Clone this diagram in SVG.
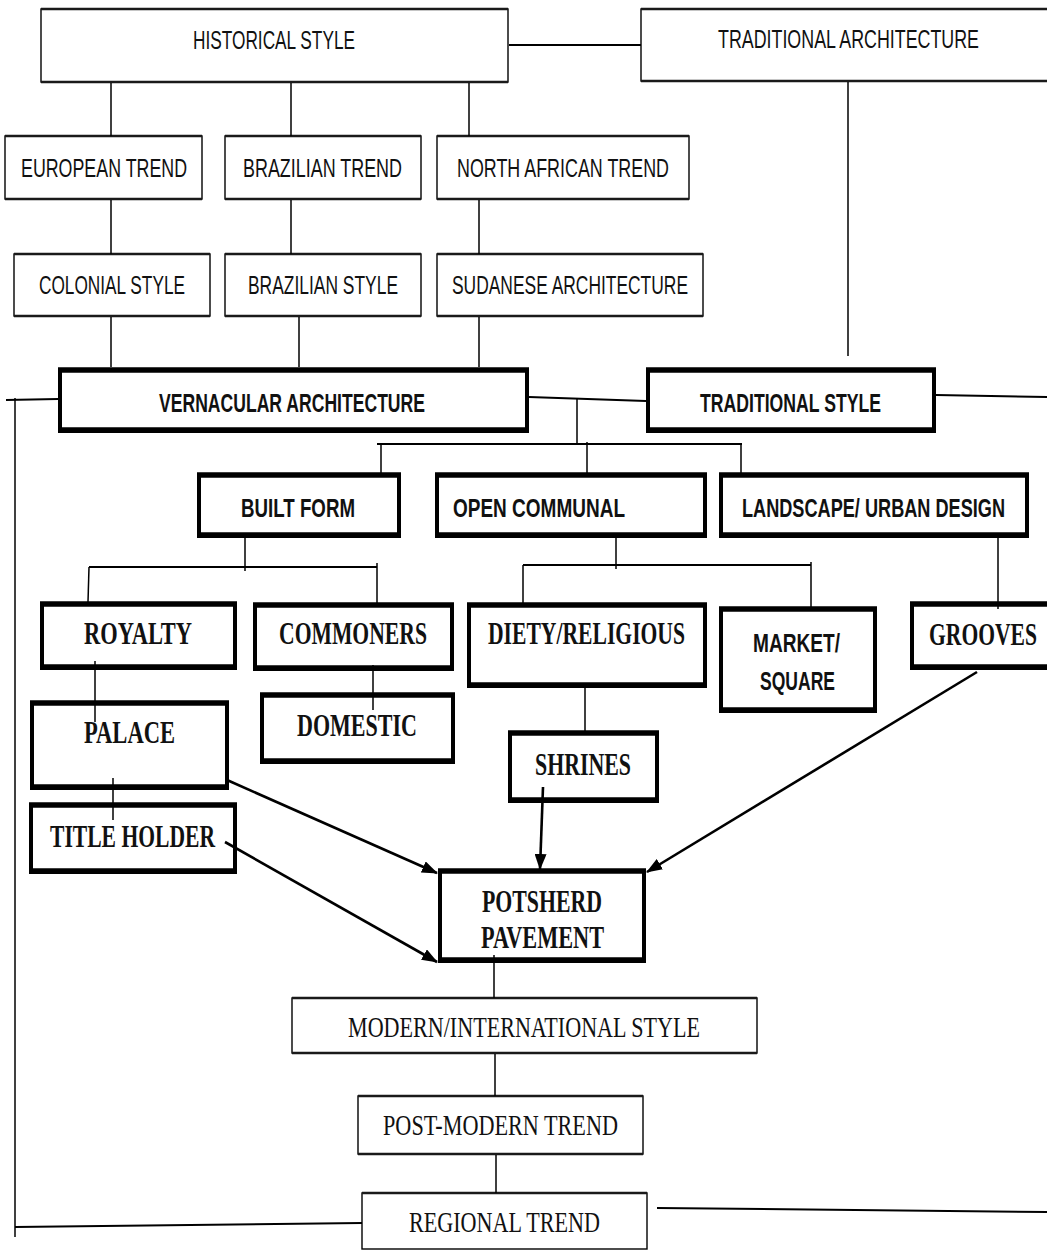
<svg xmlns="http://www.w3.org/2000/svg" width="1047" height="1250" viewBox="0 0 1047 1250">
<style>
.bg{fill:#fff}
.n rect.b{fill:#fff;stroke:#000}
.thin rect.b{stroke-width:1.4}
.thin line.h{stroke:#1a1a1a;stroke-width:2.4}
.thick rect.b{stroke-width:4}
.thick line.h{stroke:#000;stroke-width:5.5}
text{fill:#111;lengthAdjust:spacingAndGlyphs}
.s{font-family:"Liberation Sans",Arial,sans-serif;font-size:26px}
.sb{font-family:"Liberation Sans",Arial,sans-serif;font-size:26px;font-weight:bold}
.r{font-family:"Liberation Serif","Times New Roman",serif;font-size:29px}
.rb{font-family:"Liberation Serif","Times New Roman",serif;font-size:31px;font-weight:bold}
#connectors line,#connectors polyline{stroke:#000;stroke-width:1.5;fill:none}
#connectors .w{stroke-width:2}
#connectors .a{stroke-width:2.6}
</style>
<defs>
<marker id="ah" markerUnits="userSpaceOnUse" markerWidth="16" markerHeight="12" refX="15" refY="6" orient="auto">
<path d="M0,0 L16,6 L0,12 Z" fill="#000"/>
</marker>
</defs>
<rect class="bg" x="0" y="0" width="1047" height="1250"/>

<g id="nodes">
<g id="historical-style" class="n thin">
<rect class="b" x="41" y="9" width="467" height="73"/>
<line class="h" x1="41" y1="9" x2="508" y2="9"/><line class="h" x1="41" y1="82" x2="508" y2="82"/>
<text class="s" x="193" y="49" textLength="162" lengthAdjust="spacingAndGlyphs">HISTORICAL STYLE</text>
</g>
<g id="traditional-architecture" class="n thin">
<rect class="b" x="641" y="9" width="420" height="72"/>
<line class="h" x1="641" y1="9" x2="1061" y2="9"/><line class="h" x1="641" y1="81" x2="1061" y2="81"/>
<text class="s" x="718" y="48" textLength="261" lengthAdjust="spacingAndGlyphs">TRADITIONAL ARCHITECTURE</text>
</g>
<g id="european-trend" class="n thin">
<rect class="b" x="5" y="136" width="197" height="63"/>
<line class="h" x1="5" y1="136" x2="202" y2="136"/><line class="h" x1="5" y1="199" x2="202" y2="199"/>
<text class="s" x="21" y="177" textLength="166" lengthAdjust="spacingAndGlyphs">EUROPEAN TREND</text>
</g>
<g id="brazilian-trend" class="n thin">
<rect class="b" x="225" y="136" width="196" height="63"/>
<line class="h" x1="225" y1="136" x2="421" y2="136"/><line class="h" x1="225" y1="199" x2="421" y2="199"/>
<text class="s" x="243" y="177" textLength="159" lengthAdjust="spacingAndGlyphs">BRAZILIAN TREND</text>
</g>
<g id="north-african-trend" class="n thin">
<rect class="b" x="437" y="136" width="252" height="63"/>
<line class="h" x1="437" y1="136" x2="689" y2="136"/><line class="h" x1="437" y1="199" x2="689" y2="199"/>
<text class="s" x="457" y="177" textLength="212" lengthAdjust="spacingAndGlyphs">NORTH AFRICAN TREND</text>
</g>
<g id="colonial-style" class="n thin">
<rect class="b" x="14" y="254" width="196" height="62"/>
<line class="h" x1="14" y1="254" x2="210" y2="254"/><line class="h" x1="14" y1="316" x2="210" y2="316"/>
<text class="s" x="39" y="294" textLength="146" lengthAdjust="spacingAndGlyphs">COLONIAL STYLE</text>
</g>
<g id="brazilian-style" class="n thin">
<rect class="b" x="225" y="254" width="196" height="62"/>
<line class="h" x1="225" y1="254" x2="421" y2="254"/><line class="h" x1="225" y1="316" x2="421" y2="316"/>
<text class="s" x="248" y="294" textLength="150" lengthAdjust="spacingAndGlyphs">BRAZILIAN STYLE</text>
</g>
<g id="sudanese-architecture" class="n thin">
<rect class="b" x="437" y="254" width="266" height="62"/>
<line class="h" x1="437" y1="254" x2="703" y2="254"/><line class="h" x1="437" y1="316" x2="703" y2="316"/>
<text class="s" x="452" y="294" textLength="236" lengthAdjust="spacingAndGlyphs">SUDANESE ARCHITECTURE</text>
</g>

<g id="vernacular-architecture" class="n thick">
<rect class="b" x="60" y="370" width="467" height="61"/>
<line class="h" x1="58" y1="370" x2="529" y2="370"/><line class="h" x1="58" y1="430" x2="529" y2="430"/>
<text class="sb" x="159" y="412" textLength="266" lengthAdjust="spacingAndGlyphs">VERNACULAR ARCHITECTURE</text>
</g>
<g id="traditional-style" class="n thick">
<rect class="b" x="648" y="370" width="286" height="61"/>
<line class="h" x1="646" y1="370" x2="936" y2="370"/><line class="h" x1="646" y1="430" x2="936" y2="430"/>
<text class="sb" x="700" y="412" textLength="181" lengthAdjust="spacingAndGlyphs">TRADITIONAL STYLE</text>
</g>
<g id="built-form" class="n thick">
<rect class="b" x="199" y="475" width="200" height="61"/>
<line class="h" x1="197" y1="475" x2="401" y2="475"/><line class="h" x1="197" y1="535" x2="401" y2="535"/>
<text class="sb" x="241" y="517" textLength="114" lengthAdjust="spacingAndGlyphs">BUILT FORM</text>
</g>
<g id="open-communal" class="n thick">
<rect class="b" x="437" y="475" width="268" height="61"/>
<line class="h" x1="435" y1="475" x2="707" y2="475"/><line class="h" x1="435" y1="535" x2="707" y2="535"/>
<text class="sb" x="453" y="517" textLength="172" lengthAdjust="spacingAndGlyphs">OPEN COMMUNAL</text>
</g>
<g id="landscape-urban-design" class="n thick">
<rect class="b" x="721" y="475" width="306" height="61"/>
<line class="h" x1="719" y1="475" x2="1029" y2="475"/><line class="h" x1="719" y1="535" x2="1029" y2="535"/>
<text class="sb" x="742" y="517" textLength="263" lengthAdjust="spacingAndGlyphs">LANDSCAPE/ URBAN DESIGN</text>
</g>

<g id="royalty" class="n thick">
<rect class="b" x="42" y="604" width="193" height="64"/>
<line class="h" x1="40" y1="604" x2="237" y2="604"/><line class="h" x1="40" y1="667" x2="237" y2="667"/>
<text class="rb" x="84" y="644" textLength="108" lengthAdjust="spacingAndGlyphs">ROYALTY</text>
</g>
<g id="commoners" class="n thick">
<rect class="b" x="255" y="605" width="197" height="64"/>
<line class="h" x1="253" y1="605" x2="454" y2="605"/><line class="h" x1="253" y1="668" x2="454" y2="668"/>
<text class="rb" x="279" y="644" textLength="148" lengthAdjust="spacingAndGlyphs">COMMONERS</text>
</g>
<g id="diety-religious" class="n thick">
<rect class="b" x="469" y="605" width="236" height="81"/>
<line class="h" x1="467" y1="605" x2="707" y2="605"/><line class="h" x1="467" y1="685" x2="707" y2="685"/>
<text class="rb" x="488" y="644" textLength="197" lengthAdjust="spacingAndGlyphs">DIETY/RELIGIOUS</text>
</g>
<g id="market-square" class="n thick">
<rect class="b" x="721" y="609" width="154" height="102"/>
<line class="h" x1="719" y1="609" x2="877" y2="609"/><line class="h" x1="719" y1="710" x2="877" y2="710"/>
<text class="sb" x="753" y="652" textLength="87" lengthAdjust="spacingAndGlyphs">MARKET/</text>
<text class="sb" x="760" y="690" textLength="75" lengthAdjust="spacingAndGlyphs">SQUARE</text>
</g>
<g id="grooves" class="n thick">
<rect class="b" x="912" y="604" width="150" height="64"/>
<line class="h" x1="910" y1="604" x2="1062" y2="604"/><line class="h" x1="910" y1="667" x2="1062" y2="667"/>
<text class="rb" x="929" y="645" textLength="108" lengthAdjust="spacingAndGlyphs">GROOVES</text>
</g>
<g id="palace" class="n thick">
<rect class="b" x="32" y="703" width="195" height="85"/>
<line class="h" x1="30" y1="703" x2="229" y2="703"/><line class="h" x1="30" y1="787" x2="229" y2="787"/>
<text class="rb" x="84" y="743" textLength="91" lengthAdjust="spacingAndGlyphs">PALACE</text>
</g>
<g id="domestic" class="n thick">
<rect class="b" x="262" y="695" width="191" height="67"/>
<line class="h" x1="260" y1="695" x2="455" y2="695"/><line class="h" x1="260" y1="761" x2="455" y2="761"/>
<text class="rb" x="297" y="736" textLength="120" lengthAdjust="spacingAndGlyphs">DOMESTIC</text>
</g>
<g id="shrines" class="n thick">
<rect class="b" x="510" y="733" width="147" height="68"/>
<line class="h" x1="508" y1="733" x2="659" y2="733"/><line class="h" x1="508" y1="800" x2="659" y2="800"/>
<text class="rb" x="535" y="775" textLength="96" lengthAdjust="spacingAndGlyphs">SHRINES</text>
</g>
<g id="title-holder" class="n thick">
<rect class="b" x="31" y="805" width="204" height="67"/>
<line class="h" x1="29" y1="805" x2="237" y2="805"/><line class="h" x1="29" y1="871" x2="237" y2="871"/>
<text class="rb" x="50" y="847" textLength="165" lengthAdjust="spacingAndGlyphs">TITLE HOLDER</text>
</g>
<g id="potsherd-pavement" class="n thick">
<rect class="b" x="440" y="871" width="204" height="90"/>
<line class="h" x1="438" y1="871" x2="646" y2="871"/><line class="h" x1="438" y1="960" x2="646" y2="960"/>
<text class="rb" x="482" y="912" textLength="120" lengthAdjust="spacingAndGlyphs">POTSHERD</text>
<text class="rb" x="481" y="948" textLength="123" lengthAdjust="spacingAndGlyphs">PAVEMENT</text>
</g>

<g id="modern-international-style" class="n thin">
<rect class="b" x="292" y="998" width="465" height="55"/>
<line class="h" x1="292" y1="998" x2="757" y2="998"/><line class="h" x1="292" y1="1053" x2="757" y2="1053"/>
<text class="r" x="348" y="1037" textLength="352" lengthAdjust="spacingAndGlyphs">MODERN/INTERNATIONAL STYLE</text>
</g>
<g id="post-modern-trend" class="n thin">
<rect class="b" x="358" y="1096" width="285" height="58"/>
<line class="h" x1="358" y1="1096" x2="643" y2="1096"/><line class="h" x1="358" y1="1154" x2="643" y2="1154"/>
<text class="r" x="383" y="1135" textLength="235" lengthAdjust="spacingAndGlyphs">POST-MODERN TREND</text>
</g>
<g id="regional-trend" class="n thin">
<rect class="b" x="362" y="1193" width="285" height="56"/>
<line class="h" x1="362" y1="1193" x2="647" y2="1193"/>
<text class="r" x="409" y="1232" textLength="191" lengthAdjust="spacingAndGlyphs">REGIONAL TREND</text>
</g>
</g>

<g id="connectors">
<line class="w" x1="509" y1="45" x2="641" y2="45"/>
<line x1="848" y1="82" x2="848" y2="356"/>
<line x1="111" y1="83" x2="111" y2="136"/>
<line x1="291" y1="83" x2="291" y2="136"/>
<line x1="469" y1="83" x2="469" y2="136"/>
<line x1="111" y1="200" x2="111" y2="254"/>
<line x1="291" y1="200" x2="291" y2="254"/>
<line x1="479" y1="200" x2="479" y2="254"/>
<line x1="111" y1="317" x2="111" y2="367"/>
<line x1="299" y1="317" x2="299" y2="367"/>
<line x1="479" y1="317" x2="479" y2="367"/>
<line class="w" x1="6" y1="400" x2="58" y2="399"/>
<line x1="15" y1="398" x2="15" y2="1237"/>
<line class="w" x1="15" y1="1227" x2="362" y2="1223"/>
<line class="w" x1="529" y1="397" x2="646" y2="401"/>
<line class="w" x1="936" y1="395" x2="1047" y2="397"/>
<line x1="577" y1="398" x2="577" y2="444"/>
<line class="w" x1="377" y1="444" x2="742" y2="444"/>
<line x1="381" y1="444" x2="381" y2="473"/>
<line x1="587" y1="442" x2="587" y2="473"/>
<line x1="741" y1="444" x2="741" y2="473"/>
<line x1="245" y1="538" x2="245" y2="571"/>
<line class="w" x1="89" y1="567" x2="377" y2="567"/>
<line x1="89" y1="567" x2="88" y2="602"/>
<line x1="377" y1="563" x2="377" y2="603"/>
<line x1="616" y1="538" x2="616" y2="569"/>
<line class="w" x1="523" y1="565" x2="811" y2="565"/>
<line x1="523" y1="565" x2="523" y2="603"/>
<line x1="811" y1="562" x2="811" y2="607"/>
<line x1="998" y1="538" x2="998" y2="609"/>
<line x1="95" y1="661" x2="95" y2="722"/>
<line x1="373" y1="665" x2="373" y2="710"/>
<line x1="585" y1="688" x2="585" y2="731"/>
<line x1="113" y1="778" x2="113" y2="820"/>
<line class="a" x1="227" y1="780" x2="437" y2="873" marker-end="url(#ah)"/>
<line class="a" x1="225" y1="842" x2="437" y2="962" marker-end="url(#ah)"/>
<line class="a" x1="543" y1="787" x2="540" y2="869" marker-end="url(#ah)"/>
<line class="a" x1="977" y1="672" x2="647" y2="872" marker-end="url(#ah)"/>
<line x1="494" y1="955" x2="494" y2="998"/>
<line x1="495" y1="1054" x2="495" y2="1096"/>
<line x1="496" y1="1155" x2="496" y2="1193"/>
<line class="w" x1="657" y1="1208" x2="1047" y2="1212"/>
</g>
</svg>
